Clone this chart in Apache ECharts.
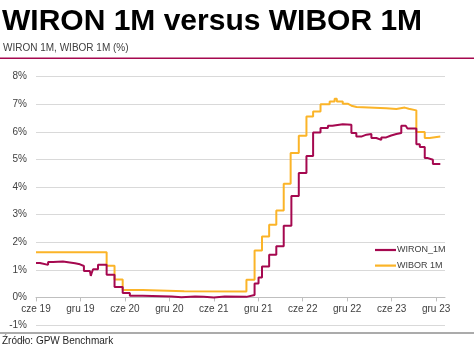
<!DOCTYPE html>
<html>
<head>
<meta charset="utf-8">
<script src="https://cdn.jsdelivr.net/npm/echarts@6/dist/echarts.min.js"></script>
<style>
html,body{margin:0;padding:0;background:#fff;}
#c{width:474px;height:350px;}
</style>
</head>
<body>
<div id="c"></div>
<script>
// ---- data ----
const titleText = 'WIRON 1M versus WIBOR 1M';
const subtitleText = 'WIRON 1M, WIBOR 1M (%)';
const sourceText = 'Źródło: GPW Benchmark';
const xTickLabels = ['cze 19','gru 19','cze 20','gru 20','cze 21','gru 21','cze 22','gru 22','cze 23','gru 23'];
const yTickValues = [-1,0,1,2,3,4,5,6,7,8];

// step series: value holds from date until next date
const wiborDates = ['2019-06-01','2020-03-17','2020-04-19','2020-05-22','2020-08-13','2021-02-01','2021-10-13','2021-11-16','2021-12-16','2022-01-15','2022-02-14','2022-03-14','2022-04-12','2022-05-15','2022-06-16','2022-07-13','2022-08-13','2022-09-20','2022-10-10','2022-10-19','2022-11-13','2022-12-03','2022-12-18','2023-01-09','2023-05-09','2023-06-20','2023-07-24','2023-08-10','2023-09-11','2023-10-15','2023-11-05','2023-12-18'];
const wiborValues = [1.64,1.15,0.65,0.27,0.22,0.21,0.64,1.70,2.21,2.63,3.15,4.12,5.23,5.86,6.56,6.74,7.00,7.10,7.20,7.10,7.02,6.95,6.90,6.86,6.83,6.88,6.84,6.78,6.00,5.78,5.83,5.83];

const wironDates = ['2019-06-01','2019-06-17','2019-07-20','2019-08-10','2019-09-20','2019-11-09','2019-11-29','2019-12-15','2020-01-09','2020-01-13','2020-01-17','2020-01-22','2020-02-12','2020-03-17','2020-04-19','2020-05-22','2020-06-21','2020-08-13','2020-12-10','2021-01-20','2021-03-15','2021-04-20','2021-06-01','2021-07-15','2021-10-13','2021-11-16','2021-12-02','2021-12-16','2022-01-15','2022-02-14','2022-03-14','2022-04-15','2022-05-15','2022-06-16','2022-07-13','2022-08-13','2022-09-13','2022-10-01','2022-11-13','2022-12-18','2023-01-08','2023-01-28','2023-02-19','2023-03-09','2023-03-29','2023-04-19','2023-05-09','2023-05-29','2023-06-20','2023-07-10','2023-07-28','2023-08-05','2023-09-11','2023-09-25','2023-10-15','2023-10-28','2023-11-18','2023-12-18'];
const wironValues = [1.25,1.18,1.28,1.30,1.24,1.20,1.14,0.96,0.90,0.78,0.90,1.02,1.18,0.82,0.38,0.16,0.06,0.03,0.01,0.03,0.02,0.00,0.03,0.02,0.09,0.50,0.72,1.12,1.55,1.85,2.60,3.68,4.51,5.13,5.98,6.14,6.22,6.28,6.26,5.96,5.83,5.90,5.92,5.78,5.71,5.80,5.87,5.92,5.96,6.22,6.26,6.12,5.55,5.45,5.05,4.99,4.84,4.84];

// month offset from June 2019
function monthOffset(s){
  const p = s.split('-').map(Number);
  return (p[0]-2019)*12 + (p[1]-6) + (p[2]-1)/30;
}
function pairs(dates, vals){ return dates.map((d,i)=>[monthOffset(d), vals[i]]); }

const FONT = '"Liberation Sans", Arial, sans-serif';
const PURPLE = '#a5084f';
const YELLOW = '#fbb428';
const TICKS = [0,6,12,18,24,30,36,42,48,54];

const chart = echarts.init(document.getElementById('c'), null, {renderer:'canvas'});
chart.setOption({
  animation:false,
  backgroundColor:'#fff',
  textStyle:{fontFamily:FONT},
  grid:{left:36, right:29, top:76.7, bottom:25, containLabel:false},
  xAxis:{
    type:'value', min:0, max:55.2, interval:6,
    axisLine:{onZero:true, lineStyle:{color:'#bfbfbf', width:1}},
    axisTick:{show:true, length:4, lineStyle:{color:'#bfbfbf'}, customValues:TICKS},
    axisLabel:{color:'#404040', fontSize:10, fontFamily:FONT, margin:-21,
      customValues:TICKS,
      formatter:v=>xTickLabels[Math.round(v/6)] || ''},
    splitLine:{show:false}
  },
  yAxis:{
    type:'value', min:-1, max:8, interval:1,
    axisLine:{show:false}, axisTick:{show:false},
    axisLabel:{color:'#404040', fontSize:10, fontFamily:FONT, margin:9, formatter:v=>v+'%'},
    splitLine:{lineStyle:{color:'#d9d9d9', width:1}}
  },
  legend:{
    orient:'vertical', left:375, top:245.5, padding:0,
    itemWidth:21, itemHeight:14, itemGap:6.6,
    textStyle:{fontSize:9, color:'#404040', fontFamily:FONT, padding:[0,0,0,-4]},
    data:[{name:'WIRON_1M', icon:'path://M0,0 L21,0 L21,2.2 L0,2.2 Z'},{name:'WIBOR 1M', icon:'path://M0,0 L21,0 L21,2.2 L0,2.2 Z'}]
  },
  series:[
    {name:'WIRON_1M', type:'line', step:'end', symbol:'none', data:pairs(wironDates, wironValues),
     lineStyle:{color:PURPLE, width:2}, itemStyle:{color:PURPLE}, z:3},
    {name:'WIBOR 1M', type:'line', step:'end', symbol:'none', data:pairs(wiborDates, wiborValues),
     lineStyle:{color:YELLOW, width:2}, itemStyle:{color:YELLOW}, z:2}
  ],
  graphic:[
    {type:'text', left:2, top:7, style:{text:titleText, font:'bold 30px '+FONT, fill:'#000'}},
    {type:'text', left:3, top:43.5, style:{text:subtitleText, font:'10px '+FONT, fill:'#404040'}},
    {type:'rect', shape:{x:0, y:57.5, width:474, height:1.5}, style:{fill:PURPLE}},
    {type:'rect', shape:{x:0, y:332.5, width:474, height:1}, style:{fill:'#595959'}},
    {type:'text', left:2, top:336.5, style:{text:sourceText, font:'10px '+FONT, fill:'#262626'}}
  ]
});
</script>
</body>
</html>
